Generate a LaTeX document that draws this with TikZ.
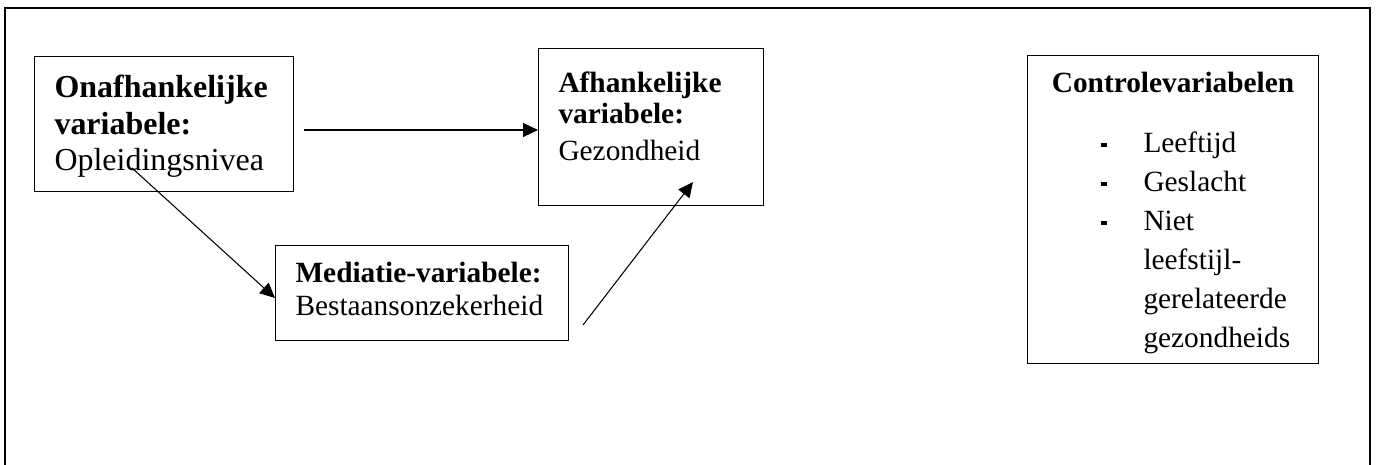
\documentclass[tikz,border=0pt]{standalone}
\usepackage{fontspec}
\setmainfont{Liberation Serif}
\usetikzlibrary{arrows.meta}
\newcommand{\streep}{\makebox[0.86cm][l]{\rule[0.1cm]{0.13cm}{0.08cm}}}
\begin{document}
\begin{tikzpicture}[x=0.02cm,y=-0.02cm,
    box/.style={draw,line width=0.6pt,anchor=north west,align=left,inner xsep=0.4cm,inner ysep=0pt},
    pijl/.style={-{Triangle[length=0.3cm,width=0.28cm]},line width=0.6pt}]
  \useasboundingbox (0,0) rectangle (1376,465);
  \draw[line width=0.9pt](5,465)|-(1370,8)--(1370,465);
  \node[box,text width=4.38cm,minimum height=2.7cm,font=\fontsize{18.2}{20.8}\selectfont] (onaf) at (34,56)
    {\rule{0pt}{0.54cm}\textbf{Onafhankelijke}\\\textbf{variabele:}\\Opleidingsnivea};
  \node[box,text width=3.7cm,minimum height=3.14cm,font=\fontsize{16.7}{17.6}\selectfont] (afh) at (538,48)
    {\textbf{Afhankelijke}\\\textbf{variabele:}\\[3.4pt]Gezondheid\rule[-0.42cm]{0pt}{0.42cm}};
  \node[box,text width=5.06cm,minimum height=1.9cm,font=\fontsize{16.7}{18.8}\selectfont] (med) at (275,245)
    {\textbf{Mediatie-variabele:}\\Bestaansonzekerheid\rule[-0.16cm]{0pt}{0.16cm}};
  \node[box,text width=5.02cm,minimum height=6.16cm,font=\fontsize{16.7}{22.2}\selectfont] (contr) at (1027,55)
    {\rule{0pt}{0.54cm}\makebox[\linewidth]{\textbf{Controlevariabelen}}\\[12pt]
     \hspace*{1.06cm}\streep Leeftijd\\
     \hspace*{1.06cm}\streep Geslacht\\
     \hspace*{1.06cm}\streep Niet\\
     \hspace*{1.92cm}leefstijl-\\
     \hspace*{1.92cm}gerelateerde\\
     \hspace*{1.92cm}gezondheids};
  % pijlen
  \coordinate (p1) at (304,130);
  \coordinate (p2) at (132,168);
  \coordinate (p3) at (583,325);
  \coordinate (p4) at (693,182);
  \draw[pijl](p1)--(p1-|afh.west);
  \draw[pijl](p2)--([yshift=-0.1cm]med.west);
  \draw[pijl](p3)--(p4);
\end{tikzpicture}
\end{document}
